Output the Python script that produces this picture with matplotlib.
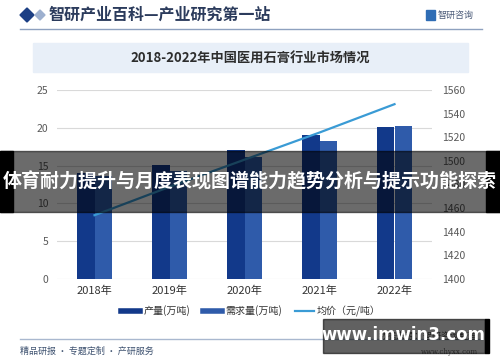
import matplotlib
matplotlib.use("Agg")
import matplotlib.pyplot as plt
from matplotlib.patches import Rectangle, Polygon
from matplotlib.lines import Line2D
import numpy as np

plt.rcParams['font.family'] = ['Noto Sans CJK SC', 'DejaVu Sans']

years = ['2018年', '2019年', '2020年', '2021年', '2022年']
production = [14.0, 15.1, 17.1, 19.1, 20.1]
demand = [13.6, 14.3, 16.1, 18.2, 20.3]
price = [1454, 1478, 1501, 1524, 1548]
left_ticks = [0, 5, 10, 15, 20, 25]
right_ticks = [1400, 1420, 1440, 1460, 1480, 1500, 1520, 1540, 1560]

W, H = 500, 362
fig = plt.figure(figsize=(W / 100, H / 100), dpi=100)
fig.patch.set_facecolor('white')

def fx(px):
    return px / W

def fy(py):
    return 1 - py / H

# header
fig.patches.append(Polygon([[fx(20), fy(15)], [fx(27), fy(8)], [fx(34), fy(15)], [fx(27), fy(22)]],
                           closed=True, transform=fig.transFigure, color='#1C3F84', zorder=2))
fig.patches.append(Polygon([[fx(35), fy(15)], [fx(40), fy(10)], [fx(45), fy(15)], [fx(40), fy(20)]],
                           closed=True, transform=fig.transFigure, color='#9DB0CF', zorder=2))
fig.text(fx(49), fy(15), '智研产业百科—产业研究第一站', fontsize=11.5, fontweight='bold',
         color='#2B3B5C', va='center', ha='left')
fig.add_artist(Line2D([fx(20), fx(482)], [fy(29), fy(29)], transform=fig.transFigure,
                      color='#8EA1BF', lw=1.0))
fig.patches.append(Rectangle((fx(426), fy(20)), fx(9), 10 / H, transform=fig.transFigure,
                             color='#2F6DB5', zorder=2))
fig.text(fx(438), fy(15), '智研咨询', fontsize=6.5, color='#4A5A78', va='center', ha='left')

# title box
fig.patches.append(Rectangle((fx(33), fy(72)), fx(435), 29 / H, transform=fig.transFigure,
                             color='#E8EFF8', zorder=1))
fig.text(fx(250), fy(57.5), '2018-2022年中国医用石膏行业市场情况', fontsize=9.5, fontweight='bold',
         color='#2D2D2D', va='center', ha='center')

# axes
ax = fig.add_axes([fx(57), fy(279), fx(432) - fx(57), (279 - 90) / H])
ax2 = ax.twinx()
x = np.arange(len(years))
bw = 0.23
dark = '#12398A'
light = '#2F5BAA'
linec = '#3A9BD5'
ax.bar(x - bw / 2, production, width=bw, color=dark, zorder=3, label='产量(万吨)')
ax.bar(x + bw / 2, demand, width=bw, color=light, zorder=3, label='需求量(万吨)')
ax.set_xlim(-0.5, 4.5)
ax.set_ylim(0, 25)
ax.set_yticks(left_ticks)
ax.set_xticks(x)
ax.set_xticklabels(years)
ax.grid(axis='y', color='#D9D9D9', lw=0.8, zorder=0)
ax.set_axisbelow(True)
for s in ax.spines.values():
    s.set_visible(False)
for s in ax2.spines.values():
    s.set_visible(False)
ax.tick_params(axis='y', length=0, labelsize=7.5, labelcolor='#595959', pad=6)
ax.tick_params(axis='x', length=0, labelsize=8, labelcolor='#333333', pad=5)

ax2.plot(x, price, color=linec, lw=1.6, zorder=4, label='均价（元/吨）')
ax2.set_ylim(1400, 1560)
ax2.set_yticks(right_ticks)
ax2.tick_params(axis='y', length=0, labelsize=7.5, labelcolor='#595959', pad=7.5)

handles = [Line2D([0], [0], color=dark, lw=4), Line2D([0], [0], color=light, lw=4),
           Line2D([0], [0], color=linec, lw=1.6)]
fig.legend(handles, ['产量(万吨)', '需求量(万吨)', '均价（元/吨）'], loc='center',
           bbox_to_anchor=(fx(251), fy(311)), ncol=3, frameon=False, fontsize=7.2,
           handlelength=1.9, columnspacing=1.3, handletextpad=0.3, labelcolor='#333333')

# footer
fig.add_artist(Line2D([fx(20), fx(482)], [fy(339), fy(339)], transform=fig.transFigure,
                      color='#A9B8CF', lw=1.0))
fig.text(fx(20), fy(351), '精品研报 · 专题定制 · 产研服务', fontsize=6.5, color='#3E5270',
         va='center', ha='left')
fig.text(fx(478), fy(336), '数据来源：智研咨询整理', fontsize=6.5, color='#555555',
         va='center', ha='right')
fig.text(fx(478), fy(352), 'www.chyxx.com', fontsize=5, color='#666666',
         va='center', ha='right', family='DejaVu Serif')

# overlay banner
fig.patches.append(Rectangle((0, fy(212)), 1, 61 / H, transform=fig.transFigure,
                             color='black', alpha=0.58, zorder=10))
fig.patches.append(Rectangle((0, fy(212)), fx(13), 61 / H, transform=fig.transFigure,
                             color='black', alpha=1.0, zorder=11))
fig.patches.append(Rectangle((fx(486), fy(212)), fx(14), 61 / H, transform=fig.transFigure,
                             color='black', alpha=1.0, zorder=11))
fig.text(fx(250), fy(182), '体育耐力提升与月度表现图谱能力趋势分析与提示功能探索', fontsize=13.7,
         fontweight='bold', color='white', va='center', ha='center', zorder=12)

# bottom-right box
fig.patches.append(Rectangle((fx(323), fy(353)), fx(162), 34 / H, transform=fig.transFigure,
                             color='black', alpha=0.62, zorder=10))
fig.patches.append(Rectangle((fx(485), fy(353)), fx(4), 34 / H, transform=fig.transFigure,
                             color='black', alpha=1.0, zorder=11))
fig.text(fx(403), fy(335), 'www.imwin3.com', fontsize=12, fontweight='bold', color='white',
         va='center', ha='center', zorder=12, family=['DejaVu Sans'])

fig.savefig('out.png', dpi=100, facecolor='white')
